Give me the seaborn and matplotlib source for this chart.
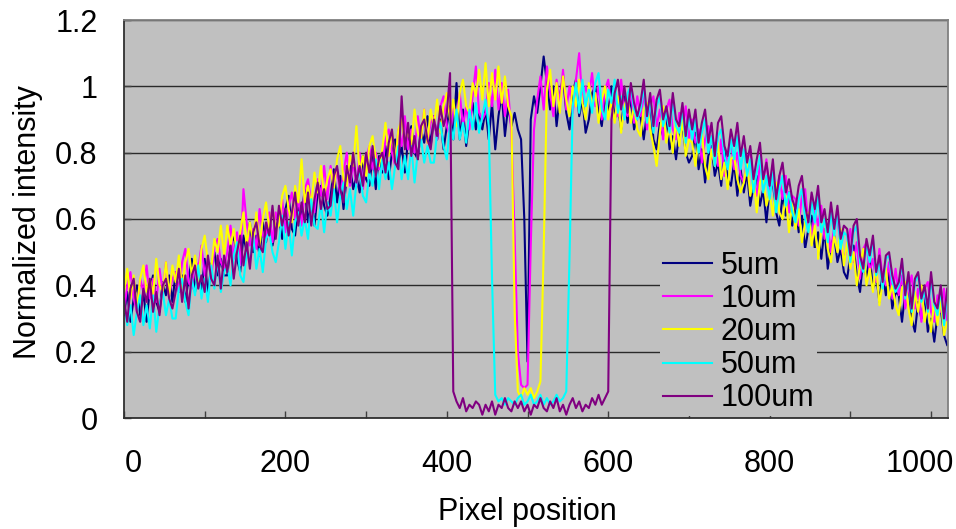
import matplotlib
matplotlib.use("Agg")
import matplotlib.pyplot as plt
import matplotlib.transforms as mtransforms
import pandas as pd
import seaborn as sns
from matplotlib.ticker import MultipleLocator

# ---------------- data ----------------
pixel = list(range(0, 1024, 4))  # pixel positions 0..1020
series_names = ["5um", "10um", "20um", "50um", "100um"]
series_colors = ["#000080", "#FF00FF", "#FFFF00", "#00FFFF", "#800080"]

y_5um = [
    0.31, 0.38, 0.29, 0.36, 0.40, 0.31, 0.38, 0.29, 0.39, 0.43, 0.35, 0.32, 0.41, 0.37, 0.43, 0.35,
    0.44, 0.38, 0.43, 0.35, 0.42, 0.48, 0.38, 0.45, 0.38, 0.48, 0.37, 0.46, 0.50, 0.43, 0.48, 0.43,
    0.43, 0.52, 0.55, 0.48, 0.44, 0.55, 0.50, 0.59, 0.50, 0.55, 0.49, 0.59, 0.53, 0.61, 0.52, 0.57,
    0.60, 0.54, 0.63, 0.67, 0.57, 0.55, 0.64, 0.61, 0.69, 0.59, 0.65, 0.58, 0.68, 0.70, 0.64, 0.61,
    0.67, 0.75, 0.65, 0.73, 0.63, 0.73, 0.76, 0.69, 0.73, 0.68, 0.79, 0.72, 0.70, 0.79, 0.69, 0.79,
    0.74, 0.82, 0.72, 0.80, 0.84, 0.76, 0.82, 0.74, 0.84, 0.88, 0.80, 0.78, 0.87, 0.83, 0.91, 0.82,
    0.91, 0.84, 0.90, 0.81, 0.88, 0.94, 0.84, 1.01, 0.84, 0.93, 0.82, 0.90, 0.95, 0.87, 0.92, 0.87,
    0.93, 0.84, 0.95, 0.81, 0.91, 0.98, 0.85, 0.94, 0.88, 0.92, 0.87, 0.84, 0.60, 0.17, 0.90, 0.97,
    0.92, 1.00, 1.09, 1.01, 0.93, 1.00, 0.88, 0.97, 1.03, 0.92, 0.87, 0.98, 1.02, 0.91, 0.96, 0.86,
    0.90, 0.98, 1.00, 0.92, 0.88, 0.97, 0.92, 1.00, 0.90, 0.94, 0.87, 0.97, 0.89, 0.97, 0.87, 0.91,
    0.91, 0.84, 0.92, 0.95, 0.84, 0.81, 0.89, 0.85, 0.91, 0.81, 0.85, 0.78, 0.86, 0.88, 0.80, 0.77,
    0.79, 0.86, 0.75, 0.81, 0.71, 0.79, 0.82, 0.73, 0.77, 0.70, 0.81, 0.72, 0.70, 0.77, 0.67, 0.75,
    0.68, 0.74, 0.64, 0.70, 0.73, 0.64, 0.69, 0.59, 0.69, 0.71, 0.62, 0.58, 0.67, 0.61, 0.68, 0.58,
    0.64, 0.56, 0.61, 0.51, 0.57, 0.61, 0.51, 0.56, 0.48, 0.57, 0.45, 0.52, 0.55, 0.47, 0.51, 0.44,
    0.42, 0.49, 0.52, 0.43, 0.38, 0.48, 0.42, 0.49, 0.39, 0.43, 0.35, 0.44, 0.37, 0.44, 0.33, 0.38,
    0.37, 0.29, 0.38, 0.40, 0.30, 0.26, 0.35, 0.30, 0.37, 0.26, 0.30, 0.23, 0.31, 0.33, 0.25, 0.22,
]

y_10um = [
    0.32, 0.40, 0.44, 0.36, 0.32, 0.42, 0.38, 0.46, 0.36, 0.42, 0.35, 0.45, 0.38, 0.47, 0.37, 0.42,
    0.44, 0.38, 0.47, 0.51, 0.41, 0.39, 0.48, 0.45, 0.52, 0.43, 0.48, 0.42, 0.51, 0.54, 0.47, 0.45,
    0.50, 0.58, 0.48, 0.56, 0.46, 0.69, 0.59, 0.52, 0.57, 0.51, 0.63, 0.55, 0.54, 0.62, 0.53, 0.62,
    0.58, 0.66, 0.56, 0.64, 0.68, 0.60, 0.66, 0.58, 0.69, 0.72, 0.65, 0.62, 0.72, 0.67, 0.76, 0.66,
    0.76, 0.70, 0.75, 0.67, 0.74, 0.80, 0.70, 0.77, 0.70, 0.80, 0.69, 0.78, 0.82, 0.75, 0.80, 0.75,
    0.75, 0.84, 0.87, 0.80, 0.76, 0.87, 0.82, 0.91, 0.81, 0.87, 0.80, 0.91, 0.84, 0.93, 0.83, 0.89,
    0.91, 0.84, 0.94, 0.97, 0.88, 0.85, 0.94, 0.91, 0.98, 0.88, 0.94, 0.87, 0.97, 1.06, 0.92, 0.90,
    0.92, 1.01, 0.94, 1.05, 0.93, 1.01, 0.91, 0.99, 0.86, 0.55, 0.20, 0.10, 0.09, 0.10, 0.52, 0.87,
    0.96, 1.03, 0.93, 1.06, 0.98, 0.91, 1.02, 0.95, 1.05, 0.93, 1.00, 0.92, 1.02, 1.10, 0.95, 1.00,
    0.97, 1.04, 0.94, 1.00, 0.90, 0.99, 1.02, 0.93, 0.97, 0.91, 1.02, 0.93, 0.91, 0.99, 0.89, 0.97,
    0.91, 0.98, 0.87, 0.94, 0.97, 0.88, 0.93, 0.84, 0.93, 0.96, 0.87, 0.84, 0.92, 0.87, 0.94, 0.84,
    0.90, 0.83, 0.87, 0.77, 0.84, 0.88, 0.78, 0.83, 0.76, 0.84, 0.73, 0.80, 0.84, 0.75, 0.80, 0.73,
    0.71, 0.78, 0.81, 0.72, 0.67, 0.77, 0.71, 0.78, 0.68, 0.72, 0.64, 0.73, 0.66, 0.73, 0.62, 0.67,
    0.66, 0.58, 0.67, 0.69, 0.58, 0.54, 0.63, 0.58, 0.64, 0.54, 0.58, 0.50, 0.58, 0.60, 0.52, 0.48,
    0.51, 0.57, 0.47, 0.53, 0.42, 0.51, 0.53, 0.44, 0.48, 0.41, 0.51, 0.42, 0.40, 0.47, 0.36, 0.45,
    0.37, 0.43, 0.33, 0.39, 0.43, 0.33, 0.39, 0.29, 0.39, 0.41, 0.32, 0.29, 0.37, 0.32, 0.39, 0.29,
]

y_20um = [
    0.38, 0.45, 0.36, 0.43, 0.33, 0.42, 0.46, 0.38, 0.42, 0.37, 0.48, 0.40, 0.38, 0.47, 0.37, 0.46,
    0.41, 0.49, 0.39, 0.47, 0.51, 0.43, 0.49, 0.41, 0.51, 0.55, 0.47, 0.45, 0.54, 0.50, 0.58, 0.49,
    0.58, 0.52, 0.57, 0.49, 0.56, 0.62, 0.52, 0.59, 0.53, 0.62, 0.52, 0.60, 0.65, 0.57, 0.63, 0.57,
    0.58, 0.67, 0.70, 0.63, 0.59, 0.70, 0.65, 0.78, 0.65, 0.70, 0.64, 0.74, 0.68, 0.76, 0.67, 0.72,
    0.75, 0.69, 0.78, 0.82, 0.72, 0.70, 0.79, 0.76, 0.88, 0.74, 0.79, 0.73, 0.82, 0.85, 0.78, 0.76,
    0.81, 0.89, 0.79, 0.87, 0.77, 0.87, 0.90, 0.83, 0.87, 0.82, 0.93, 0.86, 0.84, 0.93, 0.83, 0.93,
    0.88, 0.96, 0.86, 0.94, 0.98, 0.90, 0.96, 0.88, 0.98, 1.02, 0.94, 0.92, 1.01, 0.97, 1.05, 0.96,
    1.07, 0.94, 1.04, 0.96, 1.06, 0.95, 1.03, 0.94, 0.91, 0.32, 0.08, 0.06, 0.09, 0.07, 0.09, 0.06,
    0.08, 0.11, 0.50, 0.99, 1.05, 0.94, 1.01, 0.92, 1.03, 0.96, 0.91, 1.00, 0.94, 1.02, 0.95, 0.90,
    1.01, 0.94, 0.98, 0.89, 0.96, 1.00, 0.90, 0.96, 0.89, 0.97, 0.86, 0.94, 0.97, 0.89, 0.94, 0.87,
    0.85, 0.93, 0.95, 0.87, 0.82, 0.76, 0.86, 0.94, 0.83, 0.88, 0.80, 0.90, 0.82, 0.90, 0.79, 0.84,
    0.83, 0.76, 0.84, 0.86, 0.76, 0.72, 0.81, 0.76, 0.83, 0.72, 0.77, 0.69, 0.78, 0.79, 0.72, 0.68,
    0.71, 0.77, 0.67, 0.73, 0.62, 0.71, 0.73, 0.64, 0.68, 0.61, 0.71, 0.62, 0.60, 0.67, 0.56, 0.65,
    0.57, 0.63, 0.53, 0.59, 0.62, 0.52, 0.58, 0.48, 0.57, 0.60, 0.51, 0.47, 0.55, 0.50, 0.57, 0.46,
    0.53, 0.45, 0.50, 0.40, 0.46, 0.51, 0.40, 0.45, 0.38, 0.46, 0.34, 0.41, 0.45, 0.36, 0.40, 0.34,
    0.31, 0.39, 0.41, 0.33, 0.28, 0.38, 0.32, 0.40, 0.29, 0.34, 0.26, 0.36, 0.28, 0.36, 0.25, 0.29,
]

y_50um = [
    0.35, 0.28, 0.34, 0.25, 0.32, 0.37, 0.28, 0.34, 0.27, 0.37, 0.26, 0.34, 0.38, 0.31, 0.36, 0.30,
    0.30, 0.39, 0.42, 0.35, 0.31, 0.42, 0.37, 0.46, 0.36, 0.42, 0.35, 0.46, 0.39, 0.48, 0.38, 0.44,
    0.46, 0.40, 0.49, 0.53, 0.43, 0.41, 0.50, 0.47, 0.55, 0.45, 0.51, 0.44, 0.54, 0.56, 0.50, 0.47,
    0.53, 0.61, 0.51, 0.59, 0.49, 0.59, 0.62, 0.55, 0.60, 0.54, 0.66, 0.58, 0.57, 0.65, 0.56, 0.65,
    0.61, 0.69, 0.59, 0.67, 0.71, 0.63, 0.69, 0.61, 0.71, 0.75, 0.67, 0.65, 0.74, 0.70, 0.78, 0.69,
    0.78, 0.72, 0.77, 0.69, 0.76, 0.82, 0.72, 0.79, 0.72, 0.82, 0.71, 0.80, 0.84, 0.77, 0.82, 0.77,
    0.77, 0.86, 0.89, 0.82, 0.78, 0.89, 0.84, 0.93, 0.84, 0.89, 0.83, 0.93, 0.87, 0.95, 0.86, 0.91,
    0.96, 0.88, 0.42, 0.07, 0.05, 0.06, 0.04, 0.06, 0.05, 0.04, 0.06, 0.07, 0.04, 0.05, 0.07, 0.04,
    0.05, 0.07, 0.04, 0.06, 0.04, 0.05, 0.07, 0.05, 0.06, 0.08, 0.48, 0.94, 1.01, 0.92, 1.02, 0.94,
    0.99, 0.92, 1.01, 1.04, 0.93, 0.90, 0.99, 0.95, 1.02, 0.92, 0.97, 0.90, 0.98, 1.00, 0.93, 0.90,
    0.93, 1.00, 0.89, 0.96, 0.86, 0.94, 0.97, 0.88, 0.92, 0.86, 0.96, 0.88, 0.86, 0.93, 0.83, 0.91,
    0.84, 0.90, 0.80, 0.86, 0.90, 0.80, 0.85, 0.76, 0.85, 0.87, 0.79, 0.75, 0.84, 0.78, 0.85, 0.75,
    0.81, 0.73, 0.78, 0.68, 0.74, 0.79, 0.68, 0.73, 0.66, 0.74, 0.62, 0.69, 0.73, 0.64, 0.68, 0.62,
    0.59, 0.66, 0.69, 0.60, 0.56, 0.65, 0.59, 0.67, 0.56, 0.60, 0.53, 0.62, 0.55, 0.62, 0.51, 0.56,
    0.55, 0.47, 0.56, 0.58, 0.47, 0.44, 0.52, 0.47, 0.54, 0.43, 0.47, 0.39, 0.48, 0.49, 0.41, 0.38,
    0.40, 0.47, 0.36, 0.43, 0.32, 0.41, 0.43, 0.35, 0.38, 0.32, 0.42, 0.34, 0.31, 0.39, 0.28, 0.37,
]

y_100um = [
    0.36, 0.29, 0.39, 0.42, 0.32, 0.29, 0.39, 0.35, 0.42, 0.32, 0.38, 0.31, 0.40, 0.42, 0.36, 0.33,
    0.38, 0.45, 0.35, 0.43, 0.33, 0.43, 0.46, 0.39, 0.43, 0.38, 0.49, 0.42, 0.40, 0.49, 0.39, 0.49,
    0.44, 0.52, 0.42, 0.50, 0.55, 0.46, 0.53, 0.45, 0.56, 0.59, 0.52, 0.50, 0.59, 0.55, 0.64, 0.54,
    0.64, 0.58, 0.63, 0.55, 0.62, 0.68, 0.58, 0.65, 0.59, 0.68, 0.58, 0.66, 0.71, 0.63, 0.69, 0.63,
    0.64, 0.73, 0.76, 0.69, 0.65, 0.76, 0.71, 0.80, 0.71, 0.76, 0.70, 0.80, 0.74, 0.82, 0.73, 0.78,
    0.80, 0.74, 0.83, 0.87, 0.77, 0.75, 0.97, 0.81, 0.89, 0.79, 0.85, 0.78, 0.88, 0.90, 0.84, 0.81,
    0.90, 0.85, 0.94, 0.88, 0.92, 1.04, 0.08, 0.05, 0.03, 0.06, 0.02, 0.04, 0.03, 0.05, 0.04, 0.01,
    0.04, 0.02, 0.05, 0.01, 0.04, 0.03, 0.06, 0.03, 0.02, 0.05, 0.03, 0.05, 0.02, 0.04, 0.01, 0.04,
    0.03, 0.06, 0.03, 0.02, 0.05, 0.03, 0.06, 0.02, 0.04, 0.01, 0.04, 0.06, 0.03, 0.05, 0.02, 0.04,
    0.03, 0.06, 0.04, 0.07, 0.04, 0.06, 0.08, 0.90, 0.98, 1.02, 0.93, 1.00, 0.92, 1.01, 0.95, 0.91,
    0.95, 1.02, 0.91, 0.98, 0.88, 0.96, 0.99, 0.90, 0.94, 0.88, 0.98, 0.90, 0.88, 0.95, 0.85, 0.93,
    0.87, 0.93, 0.83, 0.89, 0.93, 0.83, 0.89, 0.79, 0.89, 0.91, 0.82, 0.79, 0.87, 0.82, 0.89, 0.79,
    0.85, 0.77, 0.82, 0.72, 0.78, 0.83, 0.72, 0.77, 0.70, 0.78, 0.66, 0.73, 0.77, 0.68, 0.72, 0.66,
    0.63, 0.70, 0.73, 0.64, 0.59, 0.68, 0.63, 0.70, 0.59, 0.63, 0.56, 0.65, 0.57, 0.64, 0.54, 0.58,
    0.57, 0.49, 0.58, 0.60, 0.49, 0.45, 0.54, 0.49, 0.55, 0.44, 0.49, 0.41, 0.49, 0.50, 0.43, 0.39,
    0.41, 0.48, 0.37, 0.44, 0.33, 0.42, 0.44, 0.36, 0.40, 0.33, 0.44, 0.35, 0.33, 0.40, 0.30, 0.39,
]

x_ticks = [0, 200, 400, 600, 800, 1000]
y_ticks = [0, 0.2, 0.4, 0.6, 0.8, 1.0, 1.2]
y_tick_labels = ["0", "0.2", "0.4", "0.6", "0.8", "1", "1.2"]

# ---------------- build table ----------------
all_series = [y_5um, y_10um, y_20um, y_50um, y_100um]
frames = []
for name, vals in zip(series_names, all_series):
    assert len(vals) == len(pixel), (name, len(vals))
    frames.append(pd.DataFrame({"Pixel position": pixel,
                                "Normalized intensity": vals,
                                "Width": name}))
df = pd.concat(frames, ignore_index=True)

# ---------------- style ----------------
plt.rcParams["font.family"] = ["Liberation Sans", "DejaVu Sans"]
FS = 22

fig = plt.figure(figsize=(9.56, 5.29), dpi=100)
ax = fig.add_axes([124 / 956, 1 - 418 / 529, (948 - 124) / 956, (418 - 20) / 529])
ax.set_facecolor("#C0C0C0")

sns.lineplot(data=df, x="Pixel position", y="Normalized intensity", hue="Width",
             hue_order=series_names, palette=dict(zip(series_names, series_colors)),
             estimator=None, sort=False, linewidth=1.5, ax=ax, legend=True)

ax.set_xlim(0, 1021)
ax.set_ylim(0, 1.2)
ax.set_xticks(x_ticks)
ax.set_xticklabels([str(v) for v in x_ticks])
ax.xaxis.set_minor_locator(MultipleLocator(100))
ax.set_yticks(y_ticks)
ax.set_yticklabels(y_tick_labels)

ax.grid(axis="y", color="#2a2a2a", linewidth=1.0)
ax.grid(axis="x", visible=False)
ax.set_axisbelow(True)

ax.tick_params(axis="x", which="both", direction="in", length=5, width=1,
               color="#404040", labelsize=FS, pad=22.5)
ax.tick_params(axis="y", which="both", direction="in", length=5, width=1,
               color="#404040", labelsize=FS, pad=19)

# Excel-style nudging of the outermost x labels so they stay inside the figure
xlabels = ax.get_xticklabels()
xlabels[0].set_transform(xlabels[0].get_transform() +
                         mtransforms.ScaledTranslation(9 / 100, 0, fig.dpi_scale_trans))
xlabels[-1].set_transform(xlabels[-1].get_transform() +
                          mtransforms.ScaledTranslation(-11 / 100, 0, fig.dpi_scale_trans))

for side in ["left", "bottom"]:
    ax.spines[side].set_color("#303030")
    ax.spines[side].set_linewidth(1.3)
for side in ["top", "right"]:
    ax.spines[side].set_color("#808080")
    ax.spines[side].set_linewidth(1.3)

ax.set_xlabel("Pixel position", fontsize=FS, va="center")
ax.xaxis.set_label_coords((527 - 124) / 824, (418 - 512) / 398)
ax.set_ylabel("Normalized intensity", fontsize=FS, va="center")
ax.yaxis.set_label_coords((28 - 124) / 824, (418 - 222) / 398)

handles, labels = ax.get_legend_handles_labels()
leg = ax.legend(handles, labels, loc="upper left",
                bbox_to_anchor=(660 / 956, 1 - 248 / 529), bbox_transform=fig.transFigure,
                borderaxespad=0, frameon=True, facecolor="#C0C0C0", edgecolor="none",
                framealpha=1, fancybox=False, fontsize=FS, borderpad=0.1,
                handlelength=1.6, handletextpad=0.28, labelspacing=0.1)
for line in leg.get_lines():
    line.set_linewidth(1.5)

fig.savefig("out.png", dpi=100)
